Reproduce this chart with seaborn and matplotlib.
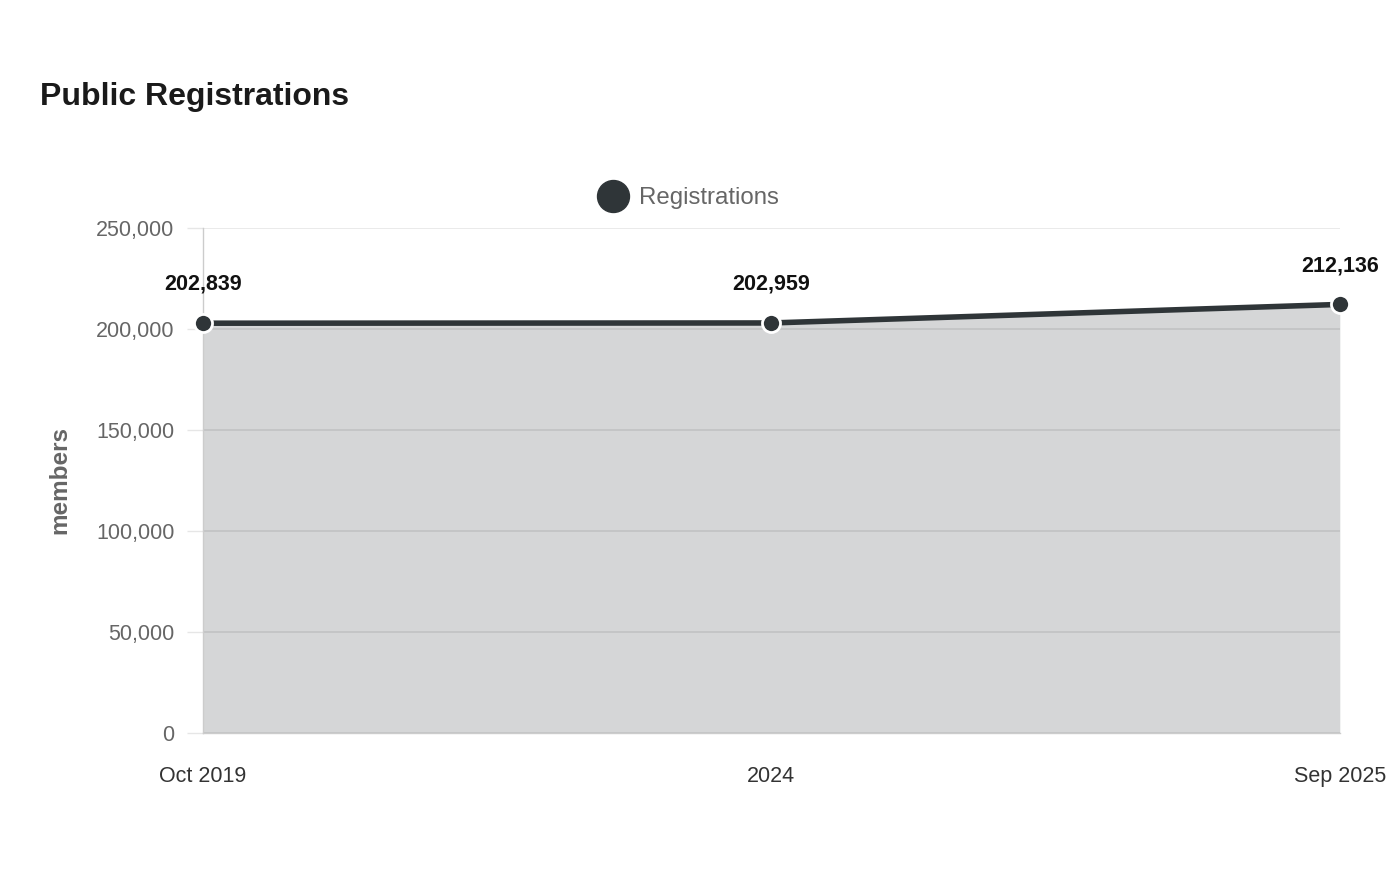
"""
Public registrations over time, area chart.
"""
import matplotlib
matplotlib.use('Agg')
import matplotlib.pyplot as plt
import seaborn as sns
import pandas as pd

periods = ['Oct 2019', '2024', 'Sep 2025']
registrations = [202839, 202959, 212136]
y_ticks = [0, 50000, 100000, 150000, 200000, 250000]

LINE = '#2f3538'
GREY = '#666666'


def main():
    sns.set_theme(style='white')
    plt.rcParams['font.family'] = ['Liberation Sans', 'DejaVu Sans']

    df = pd.DataFrame({'period': periods, 'pos': range(len(periods)),
                       'members': registrations})

    fig = plt.figure(figsize=(14, 8.8), dpi=100)
    ax = fig.add_axes([0.145, 0.167, 0.812, 0.574])

    ax.fill_between(df['pos'], df['members'], 0, color=LINE, alpha=0.2,
                    linewidth=0, zorder=2)
    sns.lineplot(data=df, x='pos', y='members', ax=ax, color=LINE,
                 linewidth=4, marker='o', markersize=13,
                 markeredgecolor='white', markeredgewidth=2,
                 label='Registrations', legend=False, zorder=3,
                 clip_on=False)

    for x, y in zip(df['pos'], df['members']):
        ax.annotate(f'{y:,}', (x, y), xytext=(0, 28),
                    textcoords='offset points', ha='center', va='center',
                    fontsize=15.5, fontweight='bold', color='#111111')

    ax.set_xlim(0, len(periods) - 1)
    ax.set_ylim(0, 250000)
    ax.set_xticks(df['pos'], periods)
    ax.set_yticks(y_ticks, [f'{v:,}' for v in y_ticks])
    ax.tick_params(axis='x', length=0, pad=24, labelsize=15.5,
                   labelcolor='#333333')
    ax.tick_params(axis='y', length=11.5, width=1, color='#e6e6e6', pad=9,
                   labelsize=15.5, labelcolor=GREY, left=True)
    ax.set_axisbelow(True)
    ax.grid(axis='y', color='#e6e6e6', linewidth=1.2)
    ax.grid(axis='x', visible=False)
    for side in ['top', 'right']:
        ax.spines[side].set_visible(False)
    ax.spines['left'].set_color('#cccccc')
    ax.spines['bottom'].set_color('#cccccc')
    ax.spines['left'].set_linewidth(1)
    ax.spines['bottom'].set_linewidth(1)

    ax.set_xlabel('')
    ax.set_ylabel('members', fontsize=17.5, fontweight='bold', color=GREY,
                  labelpad=18)

    handle = plt.Line2D([], [], linestyle='none', marker='o', markersize=23,
                        color=LINE)
    fig.legend([handle], ['Registrations'], loc='center',
               bbox_to_anchor=(0.492, 1 - 198 / 880), frameon=False,
               fontsize=17.3, labelcolor=GREY, handletextpad=0.45,
               handlelength=1.2)

    fig.text(40 / 1400, 1 - 97 / 880, 'Public Registrations', fontsize=23,
             fontweight='bold', color='#1a1a1a', va='center', ha='left')

    fig.savefig('out.png', dpi=100)


if __name__ == '__main__':
    main()
